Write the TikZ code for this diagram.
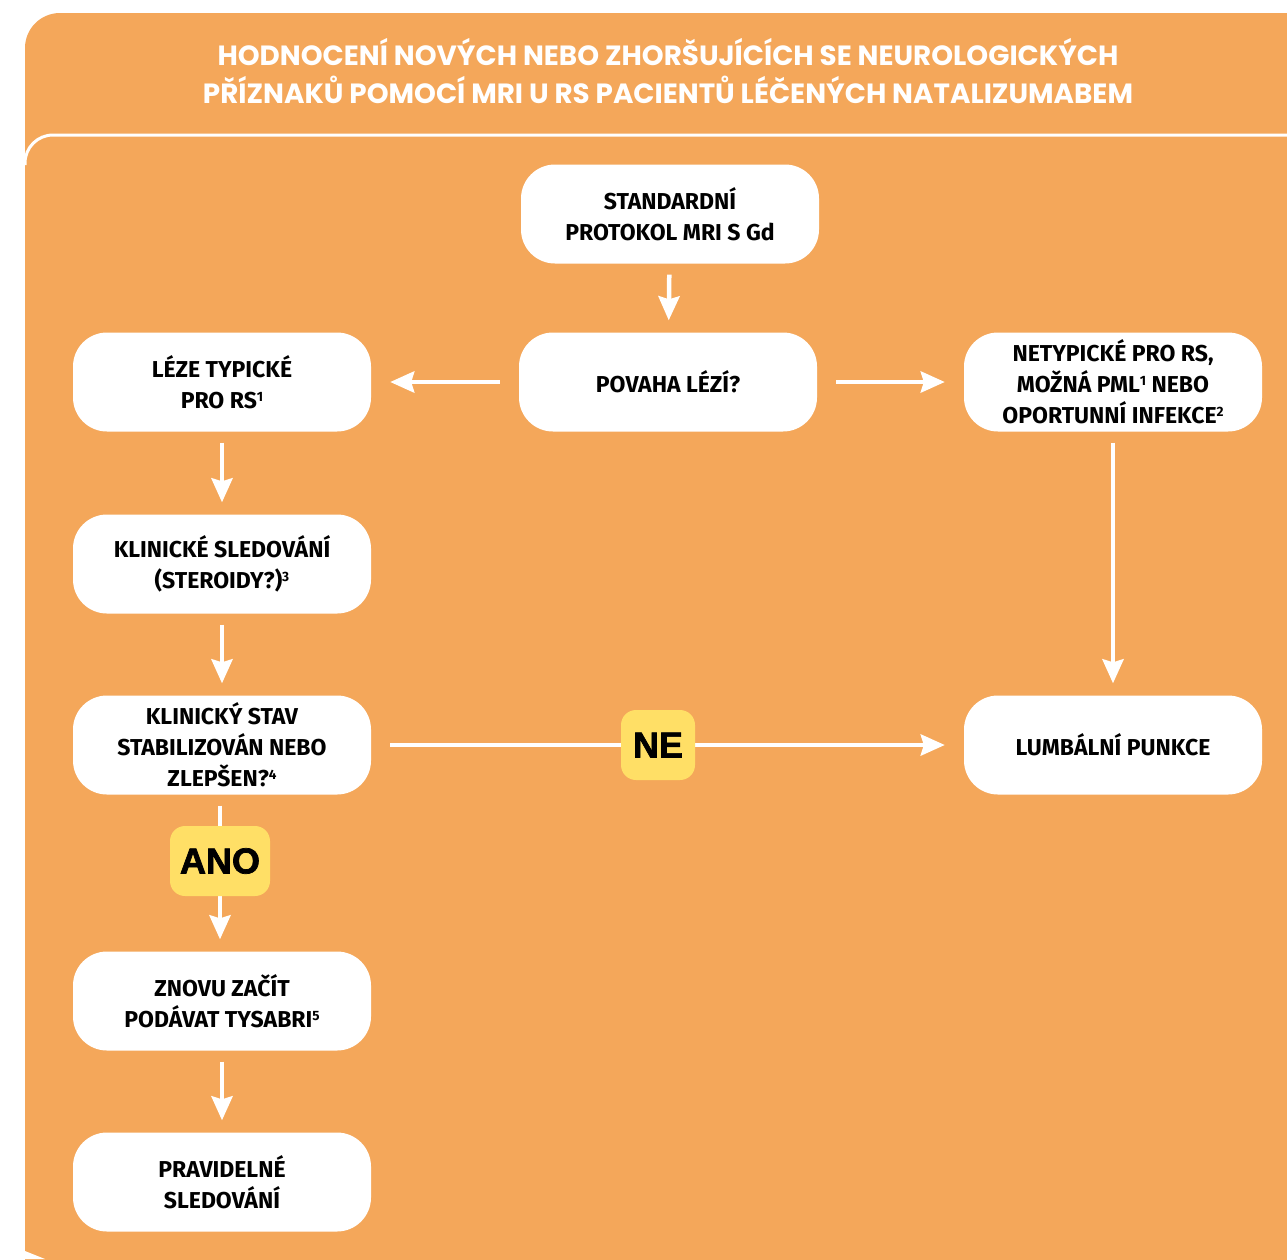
\documentclass[tikz,border=0pt]{standalone}
\usepackage{fontspec}
\usetikzlibrary{arrows.meta}
\newfontfamily\boxfont{Fira Sans}
\newfontfamily\titlefont{Poppins}
\newfontfamily\labfont[BoldFeatures={FakeBold=2}]{Liberation Sans}
\newcommand\mysup[1]{\raisebox{7pt}{\fontsize{13.5}{13.5}\selectfont #1}}
\definecolor{bgorange}{HTML}{F4A75A}
\definecolor{labyellow}{HTML}{FFDF66}
\tikzset{
  box/.style={fill=white, rounded corners=34pt, minimum width=298pt, minimum height=99pt,
    align=center, inner sep=0pt, font=\boxfont\bfseries\fontsize{23}{31}\selectfont, text=black},
  arr/.style={draw=white, line width=4.5pt, -{Stealth[length=24pt,width=21pt,inset=3pt]}},
  varr/.style={arr, shorten <=11pt, shorten >=12pt},
  harr/.style={arr, shorten <=19pt, shorten >=19pt},
  lab/.style={fill=labyellow, rounded corners=15pt, minimum height=70pt, inner xsep=12pt,
    font=\labfont\bfseries\fontsize{36}{40}\selectfont, text=black},
}
\begin{document}
\begin{tikzpicture}[x=1pt,y=-1pt]
\useasboundingbox (0,0) rectangle (1287,1259);
\fill[white] (0,0) rectangle (1287,1259);
\fill[bgorange, rounded corners=35pt] (25,1320) -- (25,13) -- (1340,13) -- (1340,1320) -- cycle;
\fill[white] (0,1251) -- (25,1251) -- (45,1259) -- (0,1259) -- cycle;
\draw[white, line width=3pt, rounded corners=28pt] (25,165) -- (25,135) -- (1300,135);
% title
\node[font=\titlefont\bfseries\fontsize{27.8}{38}\selectfont, text=white, align=center] (title) at (668,71)
  {HODNOCENÍ NOVÝCH NEBO ZHORŠUJÍCÍCH SE NEUROLOGICKÝCH\\PŘÍZNAKŮ POMOCÍ MRI U RS PACIENTŮ LÉČENÝCH NATALIZUMABEM};
% boxes
\node[box] (std) at (670,214) {STANDARDNÍ\\PROTOKOL MRI S Gd};
\node[box] (pov) at (668,382) {POVAHA LÉZÍ?};
\node[box] (lez) at (222,382) {LÉZE TYPICKÉ\\PRO RS\mysup{1}};
\node[box] (net) at (1113,382) {NETYPICKÉ PRO RS,\\MOŽNÁ PML\mysup{1} NEBO\\OPORTUNNÍ INFEKCE\mysup{2}};
\node[box] (kls) at (222,564) {KLINICKÉ SLEDOVÁNÍ\\(STEROIDY?)\mysup{3}};
\node[box] (kst) at (222,745) {KLINICKÝ STAV\\STABILIZOVÁN NEBO\\ZLEPŠEN?\mysup{4}};
\node[box] (lum) at (1113,745) {LUMBÁLNÍ PUNKCE};
\node[box] (zno) at (222,1001) {ZNOVU ZAČÍT\\PODÁVAT TYSABRI\mysup{5}};
\node[box] (pra) at (222,1182) {PRAVIDELNÉ\\SLEDOVÁNÍ};
% connectors
\draw[varr] (std) -- (pov);
\draw[harr] (pov) -- (lez);
\draw[harr] (pov) -- (net);
\draw[varr] (lez) -- (kls);
\draw[varr] (kls) -- (kst);
\draw[varr] (net) -- (lum);
\draw[harr] (kst) -- (lum);
\draw[varr] (kst.south -| 220,0) -- (zno.north -| 220,0);
\draw[varr] (zno) -- (pra);
% labels
\node[lab] (ne) at (658,745) {NE};
\node[lab, inner xsep=10pt] (ano) at (220,861) {ANO};
\end{tikzpicture}
\end{document}
